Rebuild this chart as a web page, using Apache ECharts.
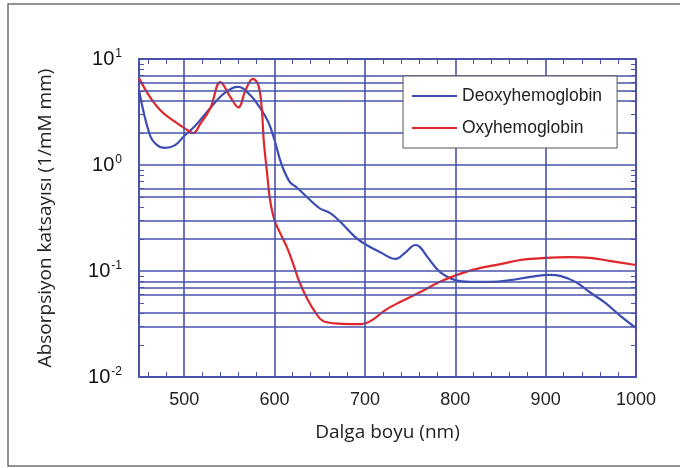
<!DOCTYPE html>
<html>
<head>
<meta charset="utf-8">
<script src="https://cdn.jsdelivr.net/npm/echarts@6/dist/echarts.min.js"></script>
<style>
  html, body { margin: 0; padding: 0; background: #fff; }
  #chart { width: 680px; height: 468px; }
</style>
</head>
<body>
<div id="chart"></div>
<script>
// wavelength (nm), absorption coefficient (1/mM mm)
var deoxyNm  = [450, 462, 470, 479, 490, 500, 512, 529, 542, 553, 560, 573, 584, 593, 600, 608, 617, 624, 639, 650, 662, 673, 689, 700, 717, 734, 745, 756, 761, 770, 783, 800, 817, 839, 861, 883, 905, 916, 933, 949, 966, 983, 1000];
var deoxyVal = [5.1, 1.92, 1.54, 1.45, 1.54, 1.88, 2.33, 3.45, 4.57, 5.3, 5.45, 4.57, 3.45, 2.55, 1.72, 1.0, 0.69, 0.62, 0.47, 0.39, 0.35, 0.29, 0.21, 0.18, 0.15, 0.13, 0.15, 0.176, 0.168, 0.133, 0.098, 0.082, 0.079, 0.079, 0.082, 0.088, 0.092, 0.09, 0.079, 0.063, 0.05, 0.0375, 0.029];
var oxyNm  = [450, 462, 475, 490, 502, 510, 517, 529, 540, 551, 560, 568, 576, 582, 586, 588, 592, 595, 600, 606, 614, 621, 628, 637, 645, 653, 667, 684, 696, 707, 723, 739, 761, 783, 805, 828, 850, 872, 900, 927, 949, 972, 1000];
var oxyVal = [6.6, 4.4, 3.2, 2.55, 2.18, 2.0, 2.38, 3.45, 6.06, 4.4, 3.5, 5.1, 6.5, 5.7, 3.3, 1.72, 0.8, 0.47, 0.30, 0.23, 0.165, 0.114, 0.077, 0.053, 0.041, 0.034, 0.032, 0.0316, 0.0316, 0.034, 0.043, 0.051, 0.063, 0.079, 0.094, 0.107, 0.116, 0.127, 0.133, 0.135, 0.133, 0.124, 0.114];

// tick labels and grid
var xLabels = [500, 600, 700, 800, 900, 1000];
var xGrid = [500, 600, 700, 800, 900];
var xMinor = [460, 480, 520, 540, 560, 580, 620, 640, 660, 680, 720, 740, 760, 780, 820, 840, 860, 880, 920, 940, 960, 980];
var yGrid = [7, 6, 5, 4, 2, 1, 0.6, 0.5, 0.3, 0.2, 0.1, 0.08, 0.07, 0.06, 0.04, 0.03];
var yMinor = [0.02, 0.03, 0.04, 0.05, 0.06, 0.07, 0.08, 0.09, 0.2, 0.3, 0.4, 0.5, 0.6, 0.7, 0.8, 0.9, 2, 3, 4, 5, 6, 7, 8, 9];

var blue = '#4a52ad';

function pairs(xs, ys) {
  var out = [];
  for (var i = 0; i < xs.length; i++) out.push([xs[i], ys[i]]);
  return out;
}

var chart = echarts.init(document.getElementById('chart'));

var xBase = {
  type: 'value', min: 450, max: 1000,
  axisLine: { show: true, lineStyle: { color: blue, width: 2 } },
  axisTick: { show: true, inside: true, length: 5, customValues: xMinor, lineStyle: { color: blue, width: 1 } },
  splitLine: { show: false }
};
var yBase = {
  type: 'log', logBase: 10, min: 0.01, max: 10,
  axisLine: { show: true, lineStyle: { color: blue, width: 2 } },
  axisTick: { show: true, inside: true, length: 5, customValues: yMinor, lineStyle: { color: blue, width: 1 } },
  splitLine: { show: false }
};

chart.setOption({
  animation: false,
  grid: { left: 139, top: 59, right: 44, bottom: 91 },
  graphic: [{
    type: 'rect',
    shape: { x: 8, y: 4, width: 700, height: 462 },
    style: { fill: 'none', stroke: '#6e6e6e', lineWidth: 1.5 },
    silent: true
  }],
  legend: {
    z: 20,
    orient: 'vertical', left: 403, top: 76,
    backgroundColor: '#fff', borderColor: '#555', borderWidth: 1,
    padding: [11, 15, 11, 9], itemGap: 14,
    itemWidth: 45, itemHeight: 2, icon: 'rect',
    textStyle: { fontFamily: 'Liberation Sans', fontSize: 17.5, color: '#222' },
    data: ['Deoxyhemoglobin', 'Oxyhemoglobin']
  },
  xAxis: [
    Object.assign({}, xBase, {
      position: 'bottom',
      name: 'Dalga boyu (nm)', nameLocation: 'middle', nameGap: 46,
      nameTextStyle: { fontFamily: 'Open Sans', fontSize: 19, color: '#222' },
      axisLabel: {
        customValues: xLabels, margin: 14,
        fontFamily: 'Liberation Sans', fontSize: 18, color: '#222',
        formatter: function (v) { return String(v); }
      }
    }),
    Object.assign({}, xBase, { position: 'top', axisLabel: { show: false } })
  ],
  yAxis: [
    Object.assign({}, yBase, {
      position: 'left',
      name: 'Absorpsiyon katsayısı (1/mM mm)', nameLocation: 'middle', nameGap: 84,
      nameTextStyle: { fontFamily: 'Open Sans', fontSize: 19, color: '#222' },
      axisLabel: {
        margin: 17,
        formatter: function (v) {
          return '{b|10}{s|' + Math.round(Math.log10(v)) + '}';
        },
        rich: {
          b: { fontFamily: 'Liberation Sans', fontSize: 20, color: '#111' },
          s: { fontFamily: 'Liberation Sans', fontSize: 12, color: '#111', padding: [0, 0, 11, 1] }
        }
      }
    }),
    Object.assign({}, yBase, { position: 'right', axisLabel: { show: false } })
  ],
  series: [
    {
      name: 'grid', type: 'line', data: [], silent: true,
      markLine: {
        silent: true, symbol: 'none', label: { show: false },
        lineStyle: { color: blue, width: 1.6, type: 'solid' },
        data: xGrid.map(function (v) { return { xAxis: v }; })
          .concat(yGrid.map(function (v) { return { yAxis: v }; }))
      }
    },
    {
      name: 'Deoxyhemoglobin', type: 'line', smooth: 0.4, showSymbol: false,
      color: '#3b4cb2', lineStyle: { width: 2.2 },
      data: pairs(deoxyNm, deoxyVal)
    },
    {
      name: 'Oxyhemoglobin', type: 'line', smooth: 0.4, showSymbol: false,
      color: '#e0262a', lineStyle: { width: 2.2 },
      data: pairs(oxyNm, oxyVal)
    }
  ]
});
</script>
</body>
</html>
